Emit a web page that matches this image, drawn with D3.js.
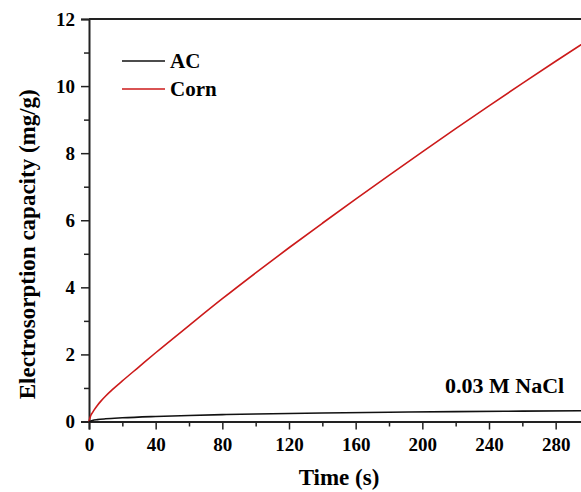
<!DOCTYPE html>
<html lang="en">
<head>
<meta charset="UTF-8">
<title>Electrosorption capacity</title>
<script src="https://d3js.org/d3.v7.min.js"></script>
<style>
    body { margin: 0; background: #fff; }
    svg text { font-family: "Liberation Serif", "Times New Roman", serif; font-weight: bold; fill: #000; }
</style>
</head>
<body>
<div id="chart"></div>
<script>
// data
const timeCorn = [0, 1, 2, 3, 5, 7, 10, 14, 20, 30, 40, 60, 80, 100, 120, 140, 160, 180, 200, 220, 240, 260, 280, 300];
const corn     = [0, 0.17, 0.26, 0.34, 0.48, 0.6, 0.76, 0.95, 1.21, 1.63, 2.05, 2.86, 3.66, 4.43, 5.18, 5.91, 6.63, 7.34, 8.04, 8.73, 9.41, 10.08, 10.74, 11.39];
const timeAC   = [0, 2, 5, 10, 20, 40, 60, 80, 100, 140, 180, 220, 260, 300];
const ac       = [0, 0.03, 0.055, 0.08, 0.11, 0.15, 0.18, 0.205, 0.225, 0.255, 0.278, 0.295, 0.308, 0.32];
const xTicks = [0, 40, 80, 120, 160, 200, 240, 280];
const yTicks = [0, 2, 4, 6, 8, 10, 12];

const width = 581, height = 492;
const margin = { top: 19, left: 89, bottom: 71 };
const plotRight = 589; // frame extends just past the window

const svg = d3.select("#chart").append("svg")
    .attr("width", width)
    .attr("height", height);

const x = d3.scaleLinear().domain([0, 300]).range([margin.left, plotRight]);
const y = d3.scaleLinear().domain([0, 12]).range([height - margin.bottom + 0.5, margin.top]);

// minor ticks
const xMinor = d3.range(20, 300, 40);
const yMinor = d3.range(1, 12, 2);

svg.append("g")
    .attr("transform", `translate(0,${y(0)})`)
    .call(d3.axisBottom(x).tickValues(xTicks).tickSize(8).tickPadding(8).tickFormat(d3.format("d")));
svg.append("g")
    .attr("transform", `translate(0,${y(0)})`)
    .call(d3.axisBottom(x).tickValues(xMinor).tickSize(5).tickFormat(""))
    .call(g => g.select(".domain").remove());

svg.append("g")
    .attr("transform", `translate(${margin.left},0)`)
    .call(d3.axisLeft(y).tickValues(yTicks).tickSize(8).tickPadding(6).tickFormat(d3.format("d")));
svg.append("g")
    .attr("transform", `translate(${margin.left},0)`)
    .call(d3.axisLeft(y).tickValues(yMinor).tickSize(5).tickFormat(""))
    .call(g => g.select(".domain").remove());

svg.selectAll(".domain").attr("stroke", "#222").attr("stroke-width", 2);
svg.selectAll(".tick line").attr("stroke", "#222").attr("stroke-width", 1.5);
svg.selectAll(".tick text").style("font-size", "19px").attr("fill", "#000");

// top frame line
svg.append("line")
    .attr("x1", x(0)).attr("x2", plotRight)
    .attr("y1", y(12)).attr("y2", y(12))
    .attr("stroke", "#222").attr("stroke-width", 2);

// curves
const line = d3.line().curve(d3.curveMonotoneX);

svg.append("path")
    .attr("d", line(timeCorn.map((t, i) => [x(t), y(corn[i])])))
    .attr("fill", "none")
    .attr("stroke", "#cc1a1a")
    .attr("stroke-width", 1.6);

svg.append("path")
    .attr("d", line(timeAC.map((t, i) => [x(t), y(ac[i])])))
    .attr("fill", "none")
    .attr("stroke", "#111")
    .attr("stroke-width", 1.6);

// legend
const legend = [
    { name: "AC", color: "#111", y: 61 },
    { name: "Corn", color: "#cc1a1a", y: 89 }
];
legend.forEach(l => {
    svg.append("line")
        .attr("x1", 122).attr("x2", 165)
        .attr("y1", l.y).attr("y2", l.y)
        .attr("stroke", l.color).attr("stroke-width", 1.6);
    svg.append("text")
        .attr("x", 170).attr("y", l.y + 6.5)
        .style("font-size", "21px")
        .text(l.name);
});

svg.append("text")
    .attr("x", 445).attr("y", 393)
    .style("font-size", "22px")
    .text("0.03 M NaCl");

// axis titles
svg.append("text")
    .attr("x", 339).attr("y", 485)
    .attr("text-anchor", "middle")
    .style("font-size", "23px")
    .text("Time (s)");

svg.append("text")
    .attr("transform", `translate(35,${(y(0) + y(12)) / 2 + 24}) rotate(-90)`)
    .attr("text-anchor", "middle")
    .style("font-size", "23px")
    .text("Electrosorption capacity (mg/g)");
</script>
</body>
</html>
